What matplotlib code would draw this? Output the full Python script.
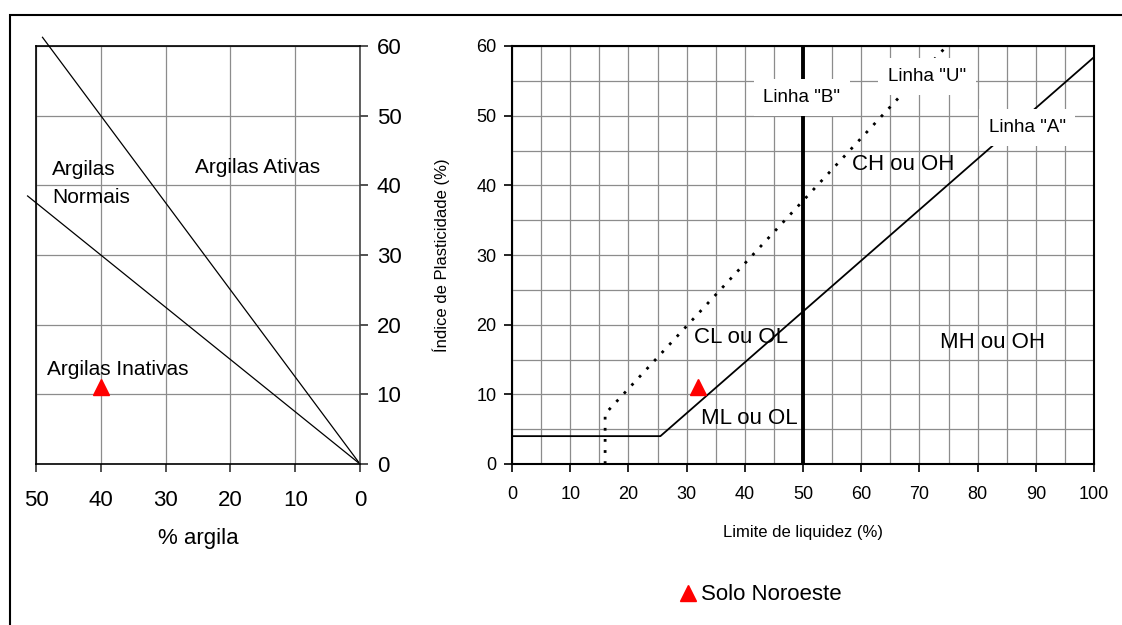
import matplotlib.pyplot as plt
from matplotlib.patches import Rectangle

plt.rcParams['font.family'] = ['Liberation Sans', 'DejaVu Sans']

# atividade das argilas (Skempton)
argila_lim = [0, 49, 51.3]
ativ_ativa = 1.25
ativ_normal = 0.75
argila_ticks = [50, 40, 30, 20, 10, 0]

# carta de plasticidade de Casagrande
linha_a_ll = [0, 25.5, 100]
linha_a_ip = [4, 4, 58.4]
linha_u_ll = [16, 16, 74.7]
linha_u_ip = [0, 7.2, 60]
linha_b_ll = [50, 50]
linha_b_ip = [0, 60]

# amostra
solo_nome = 'Solo Noroeste'
solo_argila = 40
solo_ll = 32
solo_ip = 11

fig = plt.figure(figsize=(11.22, 6.25), dpi=100)
fig.patches.append(Rectangle((10 / 1122, -0.1), 1.2, 1 - 15 / 625 + 0.1,
                             transform=fig.transFigure, fill=False,
                             edgecolor='black', linewidth=1.5, zorder=0))

grid_kw = dict(color='#8c8c8c', linewidth=0.9)

# --- grafico de atividade ---
ax1 = fig.add_axes([36 / 1122, 1 - 464 / 625, 324 / 1122, 418 / 625])
ax1.set_xlim(50, 0)
ax1.set_ylim(0, 60)
ax1.set_xticks(argila_ticks)
ax1.set_yticks(range(0, 61, 10))
ax1.grid(True, **grid_kw)
ax1.set_axisbelow(True)
ax1.yaxis.tick_right()
ax1.tick_params(axis='both', labelsize=16, length=6, width=1.2, color='#333333')
ax1.tick_params(axis='x', pad=13)
ax1.tick_params(axis='y', pad=6)
for s in ax1.spines.values():
    s.set_linewidth(1.2)
ax1.spines['right'].set_color('#444444')
ax1.set_xlabel('% argila', fontsize=16, labelpad=12)

ax1.plot([a for a in argila_lim[:2]], [ativ_ativa * a for a in argila_lim[:2]],
         color='black', linewidth=0.9, clip_on=False)
ax1.plot([0, argila_lim[2]], [0, ativ_normal * argila_lim[2]],
         color='black', linewidth=0.9, clip_on=False)
ax1.plot([solo_argila], [solo_ip], marker='^', color='red', markersize=12,
         linestyle='none')

ax1.text(47.5, 40.3, 'Argilas\nNormais', fontsize=15, ha='left', va='center',
         linespacing=1.6)
ax1.text(15.8, 42.5, 'Argilas Ativas', fontsize=15, ha='center', va='center')
ax1.text(48.3, 13.6, 'Argilas Inativas', fontsize=15, ha='left', va='center')

# --- carta de plasticidade ---
ax2 = fig.add_axes([512 / 1122, 1 - 464 / 625, 582 / 1122, 418 / 625])
ax2.set_xlim(0, 100)
ax2.set_ylim(0, 60)
ax2.set_xticks(range(0, 101, 10))
ax2.set_yticks(range(0, 61, 10))
ax2.set_xticks(range(5, 100, 10), minor=True)
ax2.set_yticks(range(5, 60, 10), minor=True)
ax2.grid(True, which='both', **grid_kw)
ax2.tick_params(axis='both', which='major', labelsize=13, length=6, width=1.2)
ax2.tick_params(axis='both', which='minor', length=0)
ax2.tick_params(axis='x', pad=10)
ax2.tick_params(axis='y', pad=5)
for s in ax2.spines.values():
    s.set_linewidth(1.5)
ax2.set_xlabel('Limite de liquidez (%)', fontsize=12, labelpad=16)
ax2.set_ylabel('Índice de Plasticidade (%)', fontsize=12, labelpad=19)

ax2.plot(linha_a_ll, linha_a_ip, color='black', linewidth=1.3, zorder=3)
ax2.plot(linha_u_ll, linha_u_ip, color='black', linewidth=2,
         linestyle=(0, (1, 3)), zorder=3)
ax2.plot(linha_b_ll, linha_b_ip, color='black', linewidth=2.8, zorder=3)
ax2.plot([solo_ll], [solo_ip], marker='^', color='red', markersize=12,
         linestyle='none', label=solo_nome, zorder=4)

box = dict(facecolor='white', edgecolor='none', pad=7)
ax2.text(49.8, 52.6, 'Linha "B"', fontsize=13.5, ha='center', va='center',
         bbox=box, zorder=5)
ax2.text(71.3, 55.6, 'Linha "U"', fontsize=13.5, ha='center', va='center',
         bbox=box, zorder=5)
ax2.text(88.5, 48.3, 'Linha "A"', fontsize=13.5, ha='center', va='center',
         bbox=box, zorder=5)

ax2.text(67.2, 43.0, 'CH ou OH', fontsize=16, ha='center', va='center', zorder=6)
ax2.text(39.3, 18.1, 'CL ou OL', fontsize=16, ha='center', va='center', zorder=6)
ax2.text(40.7, 6.6, 'ML ou OL', fontsize=16, ha='center', va='center', zorder=6)
ax2.text(82.5, 17.4, 'MH ou OH', fontsize=16, ha='center', va='center', zorder=6)

fig.legend(loc='center', bbox_to_anchor=(0.676, 1 - 595 / 625), frameon=False,
           fontsize=16, handletextpad=0.0, handlelength=1.2, markerscale=0.95)

fig.savefig('out.png', dpi=100)
